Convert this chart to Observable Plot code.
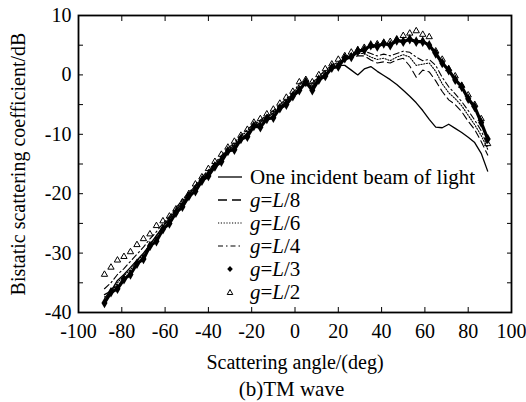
<!DOCTYPE html>
<html>
<head>
<meta charset="utf-8">
<script src="https://cdn.jsdelivr.net/npm/d3@7"></script>
<script src="https://cdn.jsdelivr.net/npm/@observablehq/plot@0.6"></script>
<style>
  html, body { margin: 0; padding: 0; background: #fff; }
  #wrap { position: relative; width: 526px; height: 402px; background: #fff; font-family: "Liberation Serif", "Times New Roman", serif; color: #000; overflow: hidden; }
  #legend { position: absolute; left: 216px; top: 166px; font-size: 21px; line-height: 23px; }
  #legend .row { display: flex; align-items: center; height: 23px; white-space: nowrap; }
  #legend svg { display: block; }
  #legend span { margin-left: 6px; }
  #cap { position: absolute; left: 72px; width: 439px; top: 378px; text-align: center; font-size: 21px; line-height: 22px; }
  #chart svg text { font-family: "Liberation Serif", "Times New Roman", serif; }
</style>
</head>
<body>
<div id="wrap">
  <div id="chart"></div>
  <div id="legend"></div>
  <div id="cap">(b)TM wave</div>
</div>
<script>
// Scattering angle samples (deg)
const angle = [-88,-85,-82,-79,-76,-73,-70,-67,-64,-61,-58,-55,-52,-49,-46,-43,-40,-37,-34,-31,-28,-25,-22,-19,-16,-13,-10,-7,-4,-1,2,5,8,11,14,17,20,23,26,29,32,35,38,41,44,47,50,53,56,59,62,65,68,71,74,77,80,83,86,89];

// Bistatic scattering coefficient (dB)
const oneBeam = [-37.0,-36.4,-34.6,-33.6,-32.4,-31.2,-30.0,-28.6,-27.0,-25.6,
  -24.2,-22.8,-21.5,-20.2,-18.8,-17.6,-16.4,-15.2,-14.0,-12.9,
  -11.8,-10.8,-9.8,-8.8,-8.0,-7.2,-6.4,-5.6,-4.4,-3.4,
  -2.2,-1.6,-1.9,-0.8,0.2,1.0,1.6,1.6,0.8,0.0,
  1.0,1.4,0.6,-0.1,-0.8,-1.6,-2.6,-3.6,-4.7,-6.0,
  -7.5,-8.8,-8.9,-8.3,-9.0,-9.7,-10.5,-11.4,-13.2,-16.2];
const gL8 = [-37.8,-36.0,-35.6,-34.2,-33.4,-31.8,-30.6,-29.2,-27.6,-26.0,
  -24.6,-23.2,-21.8,-20.6,-19.2,-18.0,-16.8,-15.6,-14.4,-13.0,
  -12.2,-11.0,-9.8,-8.6,-8.2,-7.6,-6.8,-5.9,-4.8,-3.8,
  -2.0,-1.4,-2.2,-0.9,0.3,1.0,1.8,2.4,3.0,3.2,
  3.2,2.5,2.0,2.2,2.0,2.5,2.8,1.5,-0.4,0.8,
  0.5,-1.0,-2.8,-4.2,-5.0,-6.2,-7.8,-9.2,-11.2,-13.5];
const gL6 = [-37.4,-36.6,-35.0,-33.8,-32.8,-31.4,-30.2,-28.4,-27.2,-25.4,
  -24.0,-22.6,-21.2,-20.0,-18.6,-17.4,-16.2,-15.0,-13.8,-12.6,
  -11.6,-10.4,-9.4,-8.4,-7.8,-7.0,-6.2,-5.4,-4.2,-3.2,
  -1.6,-1.2,-1.6,-0.4,0.6,1.4,2.0,2.8,3.4,3.6,
  3.6,3.0,2.6,2.8,2.4,3.0,3.4,3.0,1.6,1.8,
  2.0,0.6,-1.5,-3.0,-4.0,-5.2,-6.8,-8.4,-10.2,-12.5];
const gL4 = [-36.0,-35.0,-33.6,-32.6,-31.4,-30.2,-29.0,-27.6,-26.4,-25.0,
  -23.8,-22.4,-21.0,-19.8,-18.6,-17.2,-16.0,-14.8,-13.6,-12.4,
  -11.4,-10.2,-9.2,-8.2,-7.6,-6.8,-6.0,-5.0,-4.0,-3.0,
  -1.4,-1.0,-1.4,-0.2,0.8,1.6,2.2,3.0,3.6,3.9,
  4.0,3.6,3.2,3.5,3.2,3.6,4.0,3.8,3.0,2.4,
  2.6,1.6,-0.4,-2.0,-3.2,-4.5,-6.0,-7.6,-9.4,-12.0];
const gL3 = [-38.4,-36.6,-36.0,-34.4,-33.6,-31.8,-31.0,-28.8,-28.0,-26.0,
  -25.0,-23.2,-22.2,-20.4,-19.6,-17.8,-17.0,-15.4,-14.6,-12.8,
  -12.6,-10.8,-10.4,-8.6,-8.8,-7.4,-7.2,-5.6,-5.0,-3.6,
  -2.6,-1.2,-2.6,-0.8,-0.2,1.2,1.4,2.8,3.0,4.0,
  4.2,5.0,4.8,5.3,5.0,5.8,5.6,6.0,5.6,5.6,
  5.0,3.6,2.0,0.8,-0.8,-2.0,-4.0,-5.4,-8.0,-10.8];
const gL2 = [-33.6,-32.4,-31.2,-30.6,-29.8,-28.6,-27.6,-26.8,-25.4,-24.6,
  -23.8,-22.6,-21.4,-20.0,-18.4,-17.2,-15.8,-14.6,-13.4,-12.2,
  -11.2,-10.2,-9.2,-8.0,-7.4,-6.6,-5.8,-4.8,-3.8,-2.8,
  -1.2,-0.8,-1.2,0.0,1.0,1.8,2.6,3.2,3.8,4.2,
  4.6,4.9,5.2,5.4,5.6,6.0,6.6,7.0,7.4,6.8,
  6.4,4.0,2.6,1.0,-0.2,-1.8,-3.4,-5.0,-7.4,-11.6];

// Axis ticks
const xTicks = [-100,-80,-60,-40,-20,0,20,40,60,80,100];
const yTicks = [-40,-30,-20,-10,0,10];
const yMinorTicks = [-40,-35,-30,-25,-20,-15,-10,-5,0,5,10];

// Legend entries
const legendLabels = ["One incident beam of light", "g=L/8", "g=L/6", "g=L/4", "g=L/3", "g=L/2"];

const toRows = (vals) => angle.map((a, i) => ({angle: a, value: vals[i]}));
const rOne = toRows(oneBeam), r8 = toRows(gL8), r6 = toRows(gL6), r4 = toRows(gL4), r3 = toRows(gL3), r2 = toRows(gL2);

const enc = {x: "angle", y: "value"};
const fmt = d => String(d);
const blank = () => "";
const serif = "'Liberation Serif', 'Times New Roman', serif";

const chart = Plot.plot({
  width: 526,
  height: 372,
  marginTop: 15,
  marginRight: 15,
  marginBottom: 60,
  marginLeft: 78,
  style: {fontFamily: serif, fontSize: "20px", color: "#000", background: "#fff", overflow: "visible"},
  x: {domain: [-100, 100]},
  y: {domain: [-40, 10]},
  marks: [
    Plot.line(r8, {...enc, stroke: "#000", strokeWidth: 1.1, strokeDasharray: "7,4"}),
    Plot.line(r6, {...enc, stroke: "#000", strokeWidth: 1.1, strokeDasharray: "1.2,1.6"}),
    Plot.line(r4, {...enc, stroke: "#000", strokeWidth: 1.1, strokeDasharray: "6,3,1.5,3"}),
    Plot.line(r3, {...enc, stroke: "#000", strokeWidth: 3.2}),
    Plot.dot(r3, {...enc, symbol: "diamond", r: 3.2, fill: "#000", stroke: "none"}),
    Plot.dot(r2, {...enc, symbol: "triangle2", r: 3, stroke: "#000", strokeWidth: 1}),
    Plot.line(rOne, {...enc, stroke: "#000", strokeWidth: 1.3}),
    Plot.frame({stroke: "#000", strokeWidth: 1.8}),
    Plot.axisX(xTicks, {tickSize: 0, tickPadding: 11, tickFormat: fmt, fontSize: 20, fontFamily: serif, label: "Scattering angle/(deg)", labelArrow: "none", labelAnchor: "center", labelOffset: 56}),
    Plot.axisX(xTicks, {anchor: "bottom", tickSize: -5, tickFormat: blank, label: null}),
    Plot.axisX(xTicks, {anchor: "top", tickSize: -5, tickFormat: blank, label: null}),
    Plot.axisY(yTicks, {tickSize: 0, tickPadding: 7, tickFormat: fmt, fontSize: 20, fontFamily: serif, label: "Bistatic scattering coefficient/dB", labelArrow: "none", labelAnchor: "center", labelOffset: 68}),
    Plot.axisY(yMinorTicks, {anchor: "left", tickSize: -5, tickFormat: blank, label: null}),
    Plot.axisY(yMinorTicks, {anchor: "right", tickSize: -5, tickFormat: blank, label: null})
  ]
});
document.getElementById("chart").appendChild(chart);

// Legend (HTML overlay inside the frame)
const swatches = [
  '<line x1="2" x2="26" y1="11" y2="11" stroke="#000" stroke-width="1.3"/>',
  '<line x1="2" x2="26" y1="11" y2="11" stroke="#000" stroke-width="1.3" stroke-dasharray="9,5"/>',
  '<line x1="2" x2="26" y1="11" y2="11" stroke="#000" stroke-width="1.1" stroke-dasharray="1.2,1.6"/>',
  '<line x1="2" x2="26" y1="11" y2="11" stroke="#000" stroke-width="1.1" stroke-dasharray="5,3,1.5,3"/>',
  '<path d="M14,8 L16.8,11 L14,14 L11.2,11 Z" fill="#000"/>',
  '<path d="M14,8.5 L16.8,13.5 L11.2,13.5 Z" fill="none" stroke="#000" stroke-width="1"/>'
];
const fmtLabel = s => s.startsWith("g=") ? s.replace(/^g=L/, "<i>g</i>=<i>L</i>") : s;
document.getElementById("legend").innerHTML = legendLabels.map((t, i) =>
  `<div class="row"><svg width="28" height="23">${swatches[i]}</svg><span>${fmtLabel(t)}</span></div>`
).join("");
</script>
</body>
</html>
